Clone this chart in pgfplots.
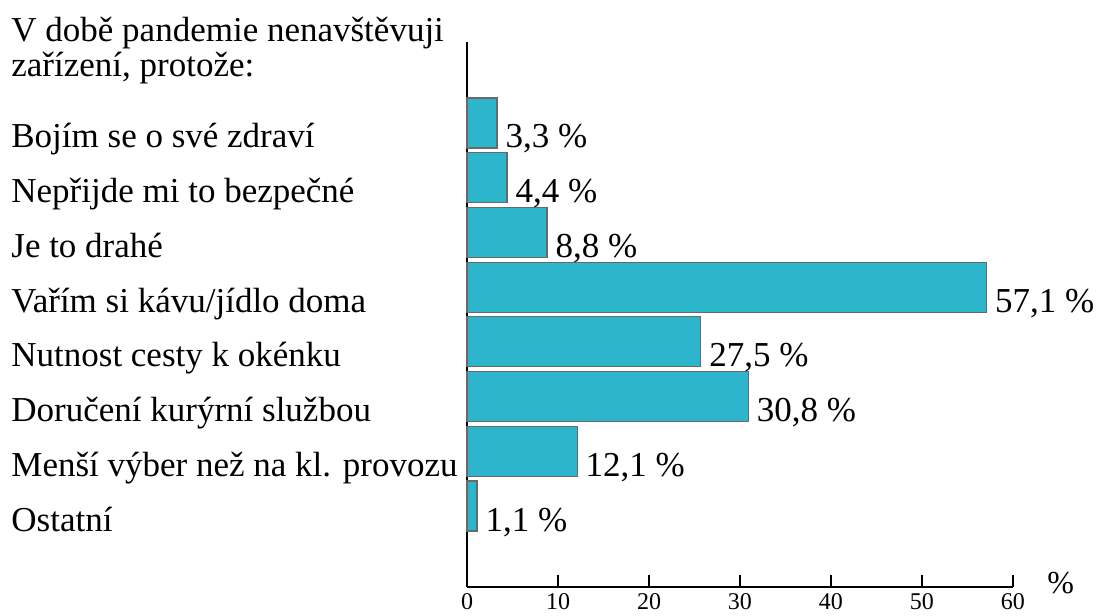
\documentclass[border=0pt]{standalone}
\usepackage{fontspec}
\setmainfont{Liberation Serif}
\usepackage{pgfplots}
\usepackage{pgfplotstable}
\pgfplotsset{compat=1.18}
\definecolor{barc}{RGB}{44,181,203}
\definecolor{edgec}{RGB}{105,105,105}
\newcommand\bigf{\fontsize{17.5pt}{21pt}\selectfont}
\pgfplotstableread{
x y label
3.3 8 {3,3}
4.4 7 {4,4}
8.8 6 {8,8}
57.1 5 {57,1}
25.7 4 {27,5}
30.9 3 {30,8}
12.1 2 {12,1}
1.1 1 {1,1}
}\datatab
\begin{document}
\begin{tikzpicture}
\useasboundingbox (0,0) rectangle (548pt,307.5pt);
\begin{axis}[
  at={(233.5pt,14pt)}, anchor=south west,
  scale only axis, width=273pt, height=272.5pt,
  xmin=0, xmax=60, ymin=-0.48, ymax=9.48,
  clip=false,
  axis x line=bottom, axis y line=left,
  axis line style={-, line width=1pt, black},
  xtick={0,10,...,60},
  tick align=inside,
  major tick length=6pt,
  xtick style={line width=1pt, black},
  ytick=\empty,
  minor ytick={1.5,2.5,...,7.5},
  minor tick length=1.5pt,
  minor tick style={line width=1pt, black},
  /pgf/number format/assume math mode=true,
  xticklabel style={font=\fontsize{12pt}{14pt}\selectfont, anchor=north, inner sep=0pt, yshift=-3pt},
]
\addplot[xbar, bar width=25pt, fill=barc, draw=edgec, line width=0.6pt,
  point meta=explicit symbolic,
  nodes near coords={\pgfplotspointmeta\ \%},
  every node near coord/.append style={anchor=base west, inner sep=0pt, xshift=4pt, yshift=-12.5pt, font=\bigf, text=black}]
  table[x=x, y=y, meta=label] {\datatab};
\node[anchor=base west, inner sep=0pt, xshift=-228pt, yshift=-12.5pt, font=\bigf] at (axis cs:0,8) {Bojím se o své zdraví};
\node[anchor=base west, inner sep=0pt, xshift=-228pt, yshift=-12.5pt, font=\bigf] at (axis cs:0,7) {Nepřijde mi to bezpečné};
\node[anchor=base west, inner sep=0pt, xshift=-228pt, yshift=-12.5pt, font=\bigf] at (axis cs:0,6) {Je to drahé};
\node[anchor=base west, inner sep=0pt, xshift=-228pt, yshift=-12.5pt, font=\bigf] at (axis cs:0,5) {Vařím si kávu/jídlo doma};
\node[anchor=base west, inner sep=0pt, xshift=-228pt, yshift=-12.5pt, font=\bigf] at (axis cs:0,4) {Nutnost cesty k okénku};
\node[anchor=base west, inner sep=0pt, xshift=-228pt, yshift=-12.5pt, font=\bigf] at (axis cs:0,3) {Doručení kurýrní službou};
\node[anchor=base west, inner sep=0pt, xshift=-228pt, yshift=-12.5pt, font=\bigf] at (axis cs:0,2) {Menší výber než na kl. provozu};
\node[anchor=base west, inner sep=0pt, xshift=-228pt, yshift=-12.5pt, font=\bigf] at (axis cs:0,1) {Ostatní};
\end{axis}
\node[anchor=base west, inner sep=0pt, font=\bigf] at (5.5pt,286.5pt) {V době pandemie nenavštěvuji};
\node[anchor=base west, inner sep=0pt, font=\bigf] at (5.5pt,269pt) {zařízení, protože:};
\node[anchor=base west, inner sep=0pt, font=\fontsize{16pt}{18pt}\selectfont] at (523.5pt,11pt) {\%};
\end{tikzpicture}
\end{document}
